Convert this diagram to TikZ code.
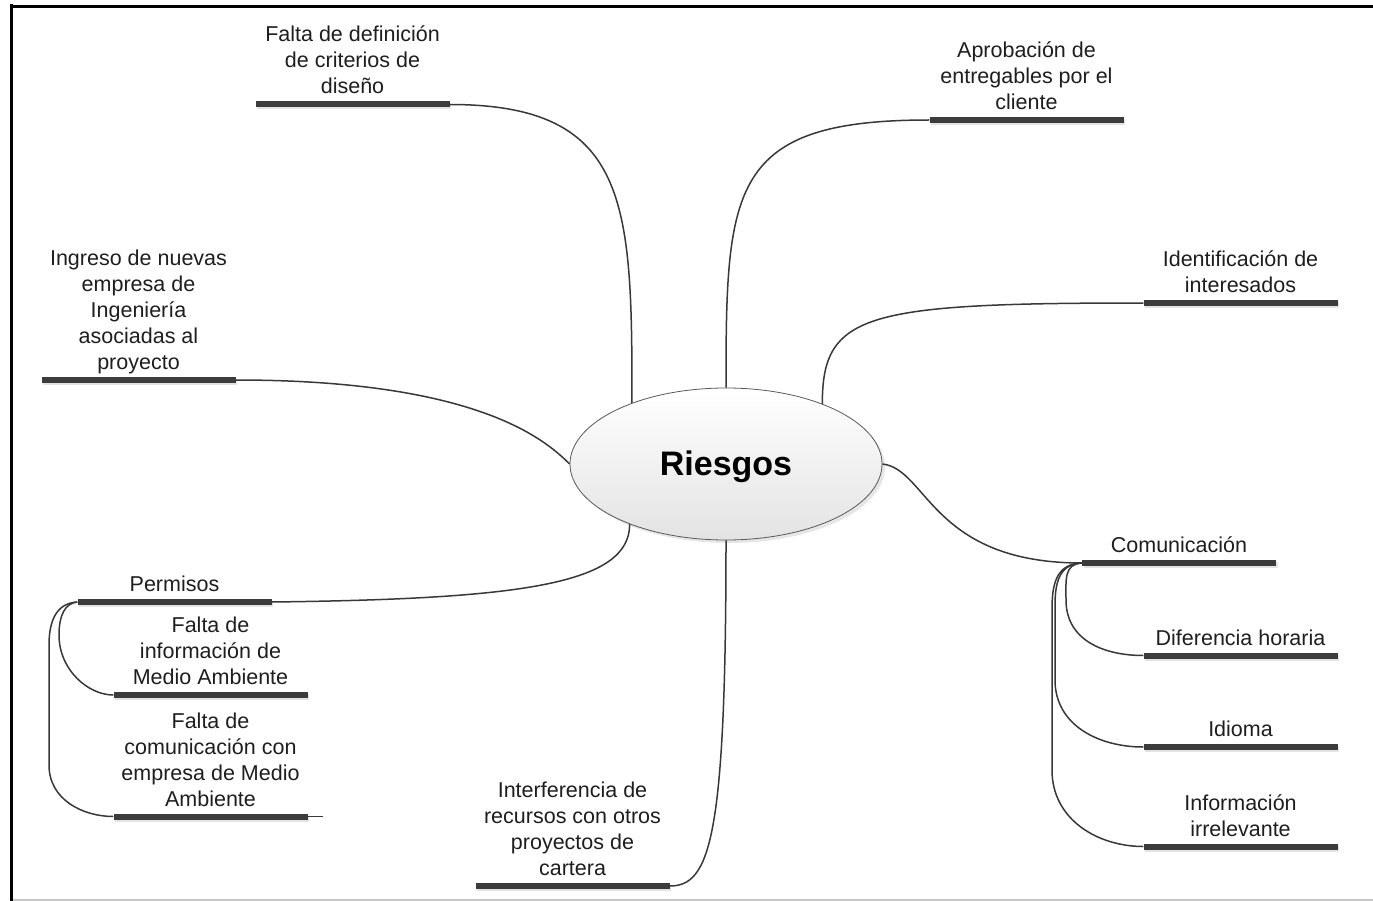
\documentclass[tikz,border=0pt]{standalone}
\usepackage{fontspec}
\setmainfont{Liberation Sans}
\usetikzlibrary{shapes.geometric,shadows}
\definecolor{barc}{HTML}{3C3C3C}
\definecolor{linec}{HTML}{383838}
\definecolor{txt}{HTML}{1E1E1E}
\newcommand\mlines[1]{\begin{tabular}[b]{@{}c@{}}#1\end{tabular}}
\begin{document}
\begin{tikzpicture}[x=1pt,y=-1pt,
  lbl/.style={anchor=base, inner sep=0pt, text=txt, font=\fontsize{21.5}{26}\selectfont},
  bar/.style={rectangle, fill=barc, minimum width=194pt, minimum height=6pt, inner sep=0pt,
              drop shadow={shadow xshift=1.5pt, shadow yshift=-2pt, opacity=0.22}},
  conn/.style={draw=linec, line width=1.5pt},
  frame/.style={line width=3.5pt, draw=black}]
\useasboundingbox (0,0) rectangle (1373,901);
% frame
\draw[frame] (9.5,6.3) -- (1373,6.3);
\draw[frame] (11.3,4.5) -- (11.3,901);
\draw[draw=black!22, line width=1.5pt] (13,900) -- (1373,900);

% central node
\node[ellipse, draw=black!65, line width=0.8pt, top color=white, bottom color=black!11,
      minimum width=312pt, minimum height=152pt, inner sep=0pt,
      drop shadow={shadow xshift=3pt, shadow yshift=-3pt, opacity=0.2}]
      (R) at (726,464) {};
\node[font=\fontsize{34}{40}\selectfont\bfseries, text=black, anchor=base] (RT) at (726,475) {Riesgos};

% bars
\node[bar] (b1) at (352.5,104.5) {};
\node[bar] (b2) at (1026.5,120) {};
\node[bar] (b3) at (1240.5,303) {};
\node[bar] (b4) at (138.5,380) {};
\node[bar] (bc) at (1179,563) {};
\node[bar] (bd) at (1240.5,655.5) {};
\node[bar] (bid) at (1240.5,747) {};
\node[bar] (bin) at (1240.5,846.5) {};
\node[bar] (bp) at (174.5,602) {};
\node[bar] (bfi) at (210.5,695) {};
\node[bar] (bfc) at (210.5,816.5) {};
\node[bar] (bi) at (572.5,886) {};

% labels
\node[lbl] (t1) at (352.5,94) {\mlines{Falta de definición\\de criterios de\\diseño}};
\node[lbl] (t2) at (1026.5,109.5) {\mlines{Aprobación de\\entregables por el\\cliente}};
\node[lbl] (t3) at (1240.5,292.5) {\mlines{Identificación de\\interesados}};
\node[lbl] (t4) at (138.5,369.5) {\mlines{Ingreso de nuevas\\empresa de\\Ingeniería\\asociadas al\\proyecto}};
\node[lbl] (tc) at (1179,552.5) {Comunicación};
\node[lbl] (td) at (1240.5,645) {Diferencia horaria};
\node[lbl] (tid) at (1240.5,736.5) {Idioma};
\node[lbl] (tin) at (1240.5,836) {\mlines{Información\\irrelevante}};
\node[lbl] (tp) at (174.5,591.5) {Permisos};
\node[lbl] (tfi) at (210.5,684.5) {\mlines{Falta de\\información de\\Medio Ambiente}};
\node[lbl] (tfc) at (210.5,806) {\mlines{Falta de\\comunicación con\\empresa de Medio\\Ambiente}};
\node[lbl] (ti) at (572.5,875.5) {\mlines{Interferencia de\\recursos con otros\\proyectos de\\cartera}};

% main connectors
\draw[conn] (b1.east) .. controls +(180,0) and +(0,-200) .. (R.147);
\draw[conn] (b2.west) .. controls +(-200,0) and +(0,-200) .. (R.north);
\draw[conn] (b3.west) .. controls +(-280,0) and +(0,-90) .. (R.32);
\draw[conn] (b4.east) .. controls +(240,0) and +(-25,-25) .. (R.west);
\draw[conn] (R.east) .. controls +(45,5) and +(-150,0) .. (bc.west);
\draw[conn] (R.212) .. controls +(0,60) and +(250,-3) .. (bp.east);
\draw[conn] (R.south) .. controls +(0,300) and +(40,0) .. (bi.east);

% Comunicacion children
\draw[conn] (bc.west) .. controls +(-18,1) and +(0,-20) .. (1066,600)
            .. controls +(0,40) and +(-40,0) .. (bd.west);
\draw[conn] (bc.west) .. controls +(-20,1) and +(0,-27) .. (1055,605)
            -- (1055,680) .. controls +(0,45) and +(-45,0) .. (bid.west);
\draw[conn] (bc.west) .. controls +(-22,1) and +(0,-30) .. (1052,608)
            -- (1052,770) .. controls +(0,50) and +(-45,0) .. (bin.west);

% Permisos children
\draw[conn] (bp.west) .. controls +(-12,1) and +(0,-20) .. (59,635)
            .. controls +(0,35) and +(-25,0) .. (bfi.west);
\draw[conn] (bp.west) .. controls +(-17,1) and +(0,-30) .. (49,645)
            -- (49,765) .. controls +(0,35) and +(-30,0) .. (bfc.west);
\draw[conn] (bfc.east) -- ++(15,0);
\end{tikzpicture}
\end{document}
